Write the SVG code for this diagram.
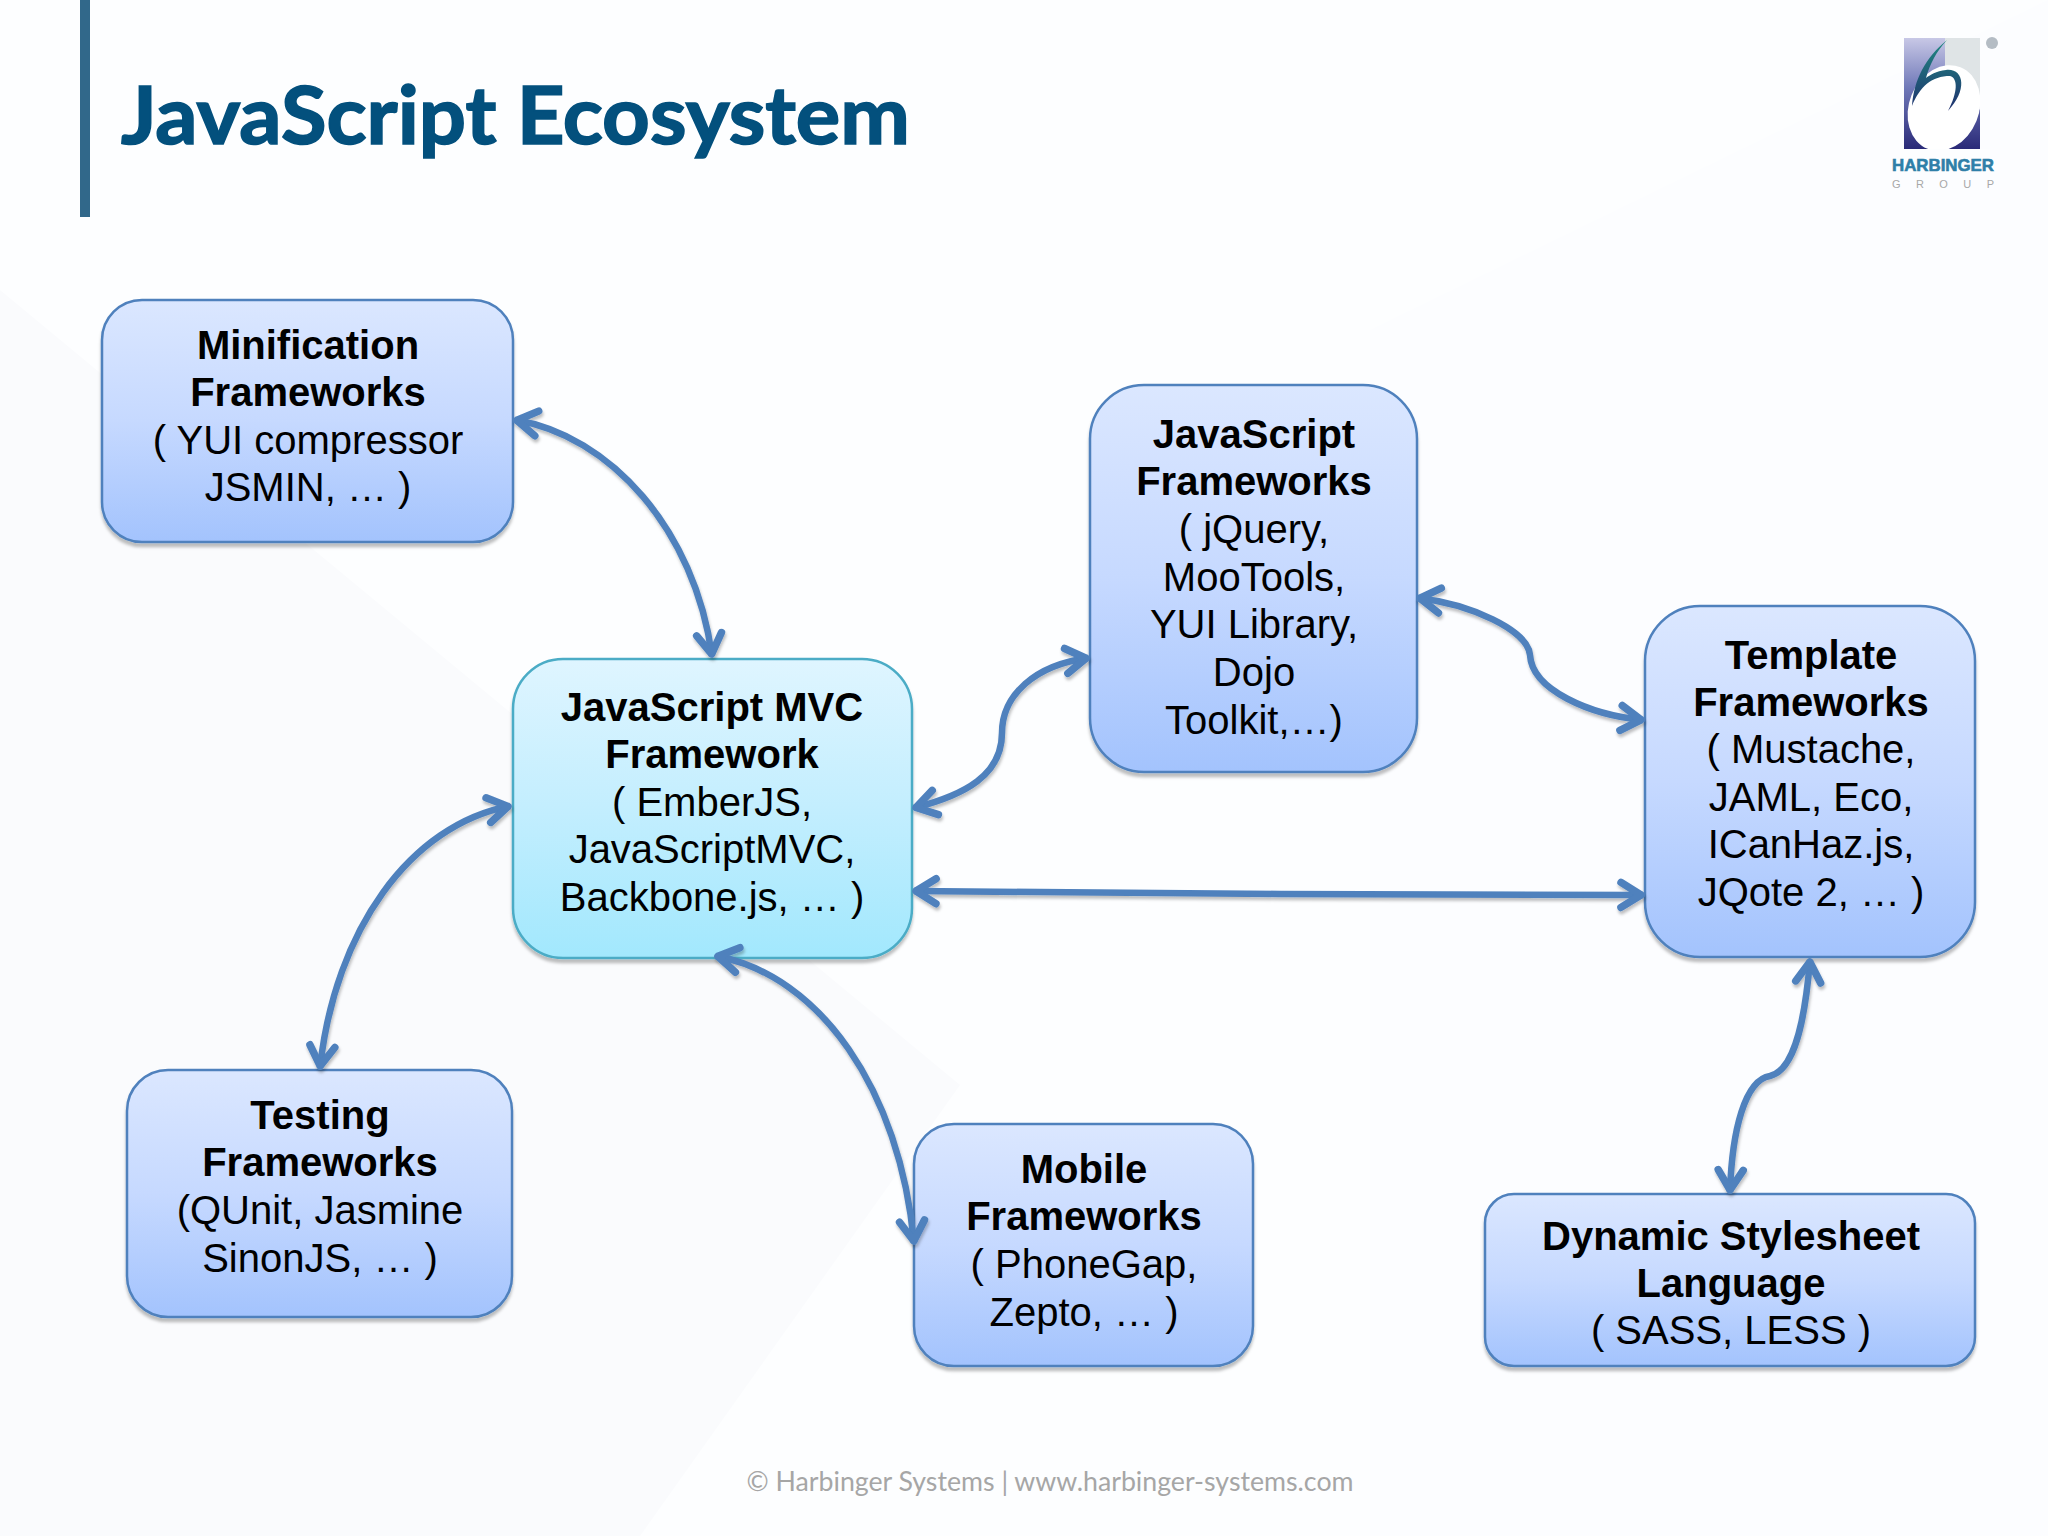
<svg xmlns="http://www.w3.org/2000/svg" width="2048" height="1536" viewBox="0 0 2048 1536">
<style>
.box{stroke:#4f81bd;stroke-width:2.5;fill:url(#blue);filter:url(#sh)}
.mvc{stroke:#4bacc6;fill:url(#cyan)}
text{font-family:"Liberation Sans",Arial,sans-serif;font-size:40px;fill:#000;text-anchor:middle}
.b{font-weight:bold}
.con{fill:none;stroke:#4f81bd;stroke-width:6.5;marker-start:url(#v);marker-end:url(#v)}
</style>
<defs>
<linearGradient id="blue" x1="0" y1="0" x2="0" y2="1"><stop offset="0" stop-color="#dbe7ff"/><stop offset=".5" stop-color="#c6d9ff"/><stop offset="1" stop-color="#a3c3fd"/></linearGradient>
<linearGradient id="cyan" x1="0" y1="0" x2="0" y2="1"><stop offset="0" stop-color="#dff5ff"/><stop offset=".5" stop-color="#c3eefe"/><stop offset="1" stop-color="#a2e8fd"/></linearGradient>
<linearGradient id="lg" x1="0" y1="0" x2="0" y2="1"><stop offset="0" stop-color="#c8c8e6"/><stop offset=".45" stop-color="#6f78b8"/><stop offset="1" stop-color="#2a2a78"/></linearGradient>
<linearGradient id="sw" x1="0" y1="0" x2="0" y2="1"><stop offset="0" stop-color="#1f8a80"/><stop offset="1" stop-color="#20306f"/></linearGradient>
<filter id="sh" x="-5%" y="-5%" width="110%" height="110%"><feDropShadow dx="0" dy="4" stdDeviation="1.5" flood-color="#000" flood-opacity=".25"/></filter>
<filter id="ash" x="-10%" y="-10%" width="120%" height="120%"><feDropShadow dx="1" dy="3" stdDeviation="1.5" flood-color="#000" flood-opacity=".25"/></filter>
<marker id="v" markerUnits="userSpaceOnUse" markerWidth="48" markerHeight="48" viewBox="-34 -24 48 48" refX="0" refY="0" orient="auto-start-reverse"><path d="M-22,-12.5 L-2,0 L-22,12.5" fill="none" stroke="#4f81bd" stroke-width="7.5" stroke-linecap="round" stroke-linejoin="round"/></marker>
</defs>
<g id="background">
<rect width="2048" height="1536" fill="#fdfeff"/>
<polygon points="0,290 960,1085 640,1536 0,1536" fill="#fafbfd"/>
<polygon points="1370,330 2048,0 2048,1536 1370,1536" fill="#fcfdff"/>
</g>
<rect id="title-bar" x="80" y="0" width="10" height="217" fill="#31688a"/>
<text id="title" x="121" y="144" textLength="789" lengthAdjust="spacingAndGlyphs" style="font-family:Lato,sans-serif;font-size:80px;font-weight:bold;fill:#03507d;text-anchor:start;stroke:#03507d;stroke-width:1.6">JavaScript Ecosystem</text>
<g id="minification"><rect class="box" x="102" y="300" width="411" height="242" rx="40"/>
<text class="b" x="308" y="359">Minification</text><text class="b" x="308" y="406">Frameworks</text><text x="308" y="454">( YUI compressor</text><text x="308" y="501">JSMIN, … )</text></g>
<g id="js-frameworks"><rect class="box" x="1090" y="385" width="327" height="387" rx="54"/>
<text class="b" x="1254" y="448">JavaScript</text><text class="b" x="1254" y="495">Frameworks</text><text x="1254" y="543">( jQuery,</text><text x="1254" y="591">MooTools,</text><text x="1254" y="638">YUI Library,</text><text x="1254" y="686">Dojo</text><text x="1254" y="734">Toolkit,…)</text></g>
<g id="mvc"><rect class="box mvc" x="513" y="659" width="399" height="299" rx="50"/>
<text class="b" x="712" y="721">JavaScript MVC</text><text class="b" x="712" y="768">Framework</text><text x="712" y="816">( EmberJS,</text><text x="712" y="863">JavaScriptMVC,</text><text x="712" y="911">Backbone.js, … )</text></g>
<g id="template"><rect class="box" x="1645" y="606" width="330" height="351" rx="55"/>
<text class="b" x="1811" y="669">Template</text><text class="b" x="1811" y="716">Frameworks</text><text x="1811" y="763">( Mustache,</text><text x="1811" y="811">JAML, Eco,</text><text x="1811" y="858">ICanHaz.js,</text><text x="1811" y="906">JQote 2, … )</text></g>
<g id="testing"><rect class="box" x="127" y="1070" width="385" height="247" rx="41"/>
<text class="b" x="320" y="1129">Testing</text><text class="b" x="320" y="1176">Frameworks</text><text x="320" y="1224">(QUnit, Jasmine</text><text x="320" y="1272">SinonJS, … )</text></g>
<g id="mobile"><rect class="box" x="914" y="1124" width="339" height="242" rx="40"/>
<text class="b" x="1084" y="1183">Mobile</text><text class="b" x="1084" y="1230">Frameworks</text><text x="1084" y="1278">( PhoneGap,</text><text x="1084" y="1326">Zepto, … )</text></g>
<g id="dsl"><rect class="box" x="1485" y="1194" width="490" height="172" rx="29"/>
<text class="b" x="1731" y="1250">Dynamic Stylesheet</text><text class="b" x="1731" y="1297">Language</text><text x="1731" y="1344">( SASS, LESS )</text></g>
<g id="logo">
<rect x="1904" y="38" width="76" height="111" fill="url(#lg)"/>
<polygon points="1945,38 1980,38 1980,110 1945,70" fill="#dfe4e6"/>
<ellipse cx="1944" cy="108" rx="35" ry="44" transform="rotate(22 1944 108)" fill="#fff"/>
<rect x="1900" y="149" width="90" height="12" fill="#fdfeff"/>
<path d="M1947,40 C1925,58 1914,80 1912,106 C1920,86 1932,76 1950,76 C1958,78 1958,92 1948,111 C1968,90 1964,68 1946,70 C1936,71 1930,75 1926,78 C1930,64 1936,52 1947,40Z" fill="url(#sw)"/>
<circle cx="1992" cy="43" r="6" fill="#b4bcc4"/>
<text x="1943" y="171" style="font-size:17px;font-weight:bold;fill:#2f7fa8;stroke:#2f7fa8;stroke-width:.6" textLength="102" lengthAdjust="spacingAndGlyphs">HARBINGER</text>
<text x="1943" y="188" style="font-size:11px;fill:#a8a8a8" textLength="102">G R O U P</text>
</g>
<g id="connectors" filter="url(#ash)">
<path class="con" d="M515,420 C610,435 695,530 712,656"/>
<path class="con" d="M510,806 C410,825 335,930 320,1068"/>
<path class="con" d="M716,956 C820,975 900,1090 914,1243"/>
<path class="con" d="M914,808 C965,795 1002,775 1002,733 C1002,695 1035,665 1088,658"/>
<path class="con" d="M1418,598 C1470,604 1528,630 1530,655 C1532,690 1590,715 1643,720"/>
<path class="con" d="M914,891 L1280,894 L1643,895"/>
<path class="con" d="M1810,960 C1805,1020 1795,1070 1770,1076 C1745,1080 1732,1130 1730,1192"/>
</g>
<text id="footer" x="1050" y="1491" textLength="607" lengthAdjust="spacingAndGlyphs" style="font-family:Lato,sans-serif;font-size:26px;fill:#a6a6a6">© Harbinger Systems | www.harbinger-systems.com</text>
</svg>
